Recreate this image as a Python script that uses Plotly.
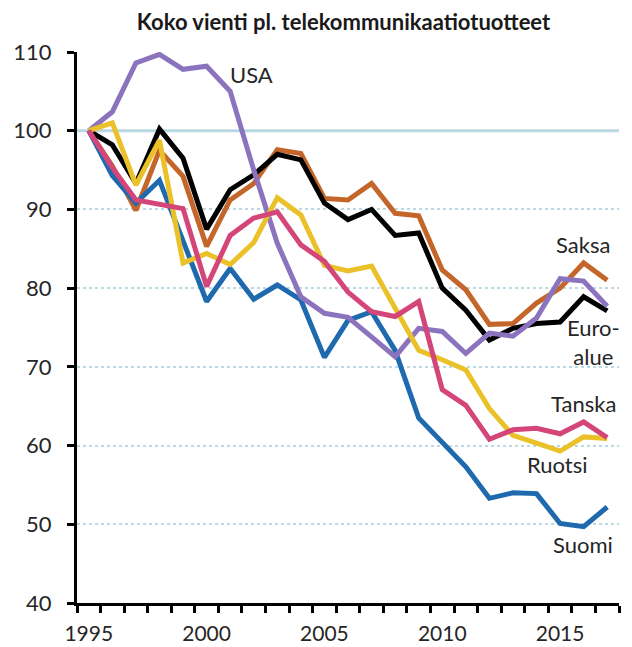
import plotly.graph_objects as go

years = list(range(1995, 2018))
suomi = [100, 94.3, 90.8, 93.7, 86.0, 78.3, 82.5, 78.6, 80.4, 78.5, 71.2, 75.9, 77.0, 72.1, 63.5, 60.5, 57.3, 53.3, 54.0, 53.9, 50.1, 49.7, 52.2]
ruotsi = [100, 101.0, 93.1, 98.8, 83.2, 84.4, 83.0, 85.8, 91.5, 89.3, 82.9, 82.2, 82.8, 77.6, 72.1, 70.9, 69.6, 64.7, 61.3, 60.3, 59.3, 61.1, 60.9]
tanska = [100, 95.3, 91.2, 90.6, 90.1, 80.2, 86.7, 88.9, 89.7, 85.5, 83.4, 79.5, 77.0, 76.4, 78.3, 67.1, 65.1, 60.8, 62.0, 62.2, 61.5, 63.0, 61.0]
saksa = [100, 95.5, 89.9, 97.5, 94.2, 85.3, 91.2, 93.3, 97.6, 97.1, 91.4, 91.2, 93.3, 89.5, 89.2, 82.3, 79.8, 75.4, 75.5, 78.1, 80.0, 83.2, 81.0]
euro = [100, 98.2, 93.3, 100.2, 96.5, 87.5, 92.5, 94.4, 97.0, 96.3, 90.8, 88.7, 90.0, 86.7, 87.0, 80.0, 77.2, 73.4, 74.9, 75.5, 75.7, 78.9, 77.1]
usa = [100, 102.4, 108.6, 109.7, 107.8, 108.2, 105.0, 95.0, 85.7, 78.9, 76.8, 76.3, 73.8, 71.3, 74.9, 74.5, 71.7, 74.3, 73.9, 76.2, 81.2, 80.9, 77.7]

title = "Koko vienti pl. telekommunikaatiotuotteet"
x_labels = [1995, 2000, 2005, 2010, 2015]
y_ticks = [40, 50, 60, 70, 80, 90, 100, 110]

series = [
    ("Saksa", saksa, "#C4662A"),
    ("Euro-alue", euro, "#000000"),
    ("Suomi", suomi, "#1F69AE"),
    ("USA", usa, "#8B73BE"),
    ("Ruotsi", ruotsi, "#EBC12A"),
    ("Tanska", tanska, "#D4467A"),
]

labels = [
    ("USA", 2001.9, 107.2),
    ("Saksa", 2015.97, 85.5),
    ("Euro-<br>alue", 2016.4, 73.1),
    ("Tanska", 2016.0, 65.4),
    ("Ruotsi", 2014.9, 57.55),
    ("Suomi", 2015.97, 47.4),
]

fig = go.Figure()
for name, vals, col in series:
    fig.add_trace(go.Scatter(x=years, y=vals, mode="lines", name=name,
                             line=dict(color=col, width=5), showlegend=False))

for txt, lx, ly in labels:
    fig.add_annotation(x=lx, y=ly, text=txt, showarrow=False,
                       font=dict(family="Lato", size=22, color="#262626"),
                       xanchor="center", yanchor="middle", align="center")

fig.add_shape(type="line", xref="paper", x0=0, x1=1, yref="y", y0=100, y1=100,
              line=dict(color="#B8D7E2", width=3), layer="below")

boundaries = [y - 0.5 for y in years] + [years[-1] + 0.5]

# page body has an 8px default margin, so the figure is sized to fit the window
W, H = 624, 639
fig.update_layout(
    width=W, height=H,
    margin=dict(l=69, r=13, t=44, b=44, autoexpand=False),
    paper_bgcolor="white", plot_bgcolor="white",
    showlegend=False,
    title=dict(text="<b>" + title + "</b>", xref="container", yref="container",
               x=335.5 / W, y=1 - 14 / H, xanchor="center", yanchor="middle",
               automargin=False,
               font=dict(family="Lato", size=22, color="#1a1a1a")),
    font=dict(family="Lato", size=22, color="#262626"),
    xaxis=dict(range=[1994.5, 2017.5], tickmode="array", tickvals=x_labels,
               ticktext=[str(v) for v in x_labels], ticks="",
               tickfont=dict(size=21),
               showgrid=False, zeroline=False, showline=True,
               linecolor="black", linewidth=3, automargin=False,
               ticklabelstandoff=10,
               minor=dict(tickmode="array", tickvals=boundaries, ticks="outside",
                          ticklen=7, tickwidth=2.5, tickcolor="black", showgrid=False)),
    yaxis=dict(range=[40, 110], tickmode="array", tickvals=y_ticks,
               ticks="outside", ticklen=7, tickwidth=2.5, tickcolor="black",
               showline=True, linecolor="black", linewidth=3, automargin=False,
               showgrid=True, gridcolor="#BCD8E2", gridwidth=2, griddash="dot",
               zeroline=False, ticklabelstandoff=11),
)

fig.write_html("out.html")
